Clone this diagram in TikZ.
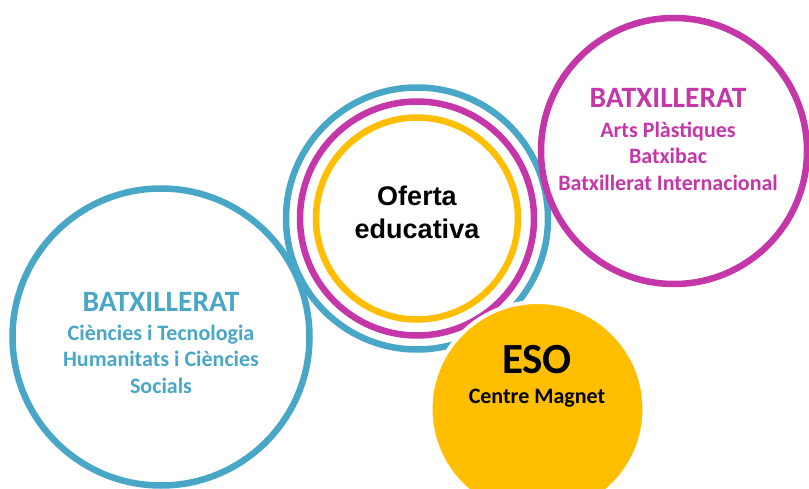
\documentclass[tikz,border=0pt]{standalone}
\usepackage{fontspec}
\setmainfont{Carlito}
\newfontfamily\arialfont{Liberation Sans}
\usepackage{tikz}
\usetikzlibrary{positioning}

\definecolor{blau}{RGB}{72,167,199}
\definecolor{magenta}{RGB}{197,54,168}
\definecolor{groc}{RGB}{255,190,0}

\begin{document}
\begin{tikzpicture}[x=1pt,y=-1pt,
	anell/.style={line width=6.5pt},
	titol/.style={font=\bfseries\fontsize{29.5}{29.5}\selectfont},
	llista/.style={font=\bfseries\fontsize{22}{26.5}\selectfont,align=center}]
		\useasboundingbox (0,0) rectangle (809,489);
		% central rings
		\coordinate (oferta) at (417,218.5);
		\draw[anell,blau] (oferta) circle (131);
		\draw[anell,magenta] (oferta) circle (117);
		\draw[anell,groc] (oferta) circle (101);
		\node (ofertatxt) at (417,212) [align=center,font=\arialfont\bfseries\fontsize{27}{33}\selectfont] {Oferta\\educativa};
		% left circle
		\coordinate (esq) at (161,337);
		\draw[anell,blau] (esq) circle (148.5);
		\node (esqtit) at (161,302) [titol,blau] {BATXILLERAT};
		\node (esqllista) at (161,359) [llista,blau] {Ciències i Tecnologia\\Humanitats i Ciències\\Socials};
		% right circle
		\coordinate (dre) at (674,151);
		\draw[anell,magenta] (dre) circle (133);
		\node (dretit) at (668,98) [titol,magenta] {BATXILLERAT};
		\node (drellista) at (668,156) [llista,magenta] {Arts Plàstiques\\Batxibac\\Batxillerat Internacional};
		% ESO
		\coordinate (eso) at (537.5,409);
		\fill[groc,draw=white,line width=4pt] (eso) circle (107);
		\node (esotit) at (537,360) [font=\bfseries\fontsize{43}{43}\selectfont] {ESO};
		\node (esosub) at (537,398) [font=\bfseries\fontsize{22}{22}\selectfont] {Centre Magnet};
		\end{tikzpicture}
\end{document}
